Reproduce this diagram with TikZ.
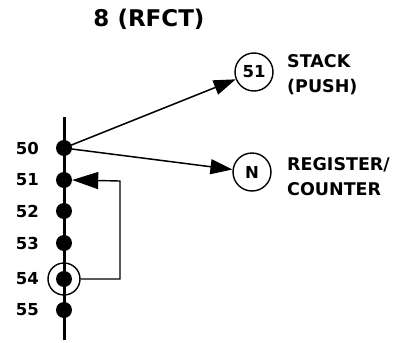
\documentclass[tikz,border=0pt]{standalone}
\usepackage{fontspec}
\setmainfont{DejaVu Sans}
\usetikzlibrary{arrows.meta}
\tikzset{
  lbl/.style={font=\bfseries\fontsize{16.5}{18}\selectfont, inner sep=0pt},
  side/.style={font=\bfseries\fontsize{17.5}{25}\selectfont, align=left, anchor=west, inner sep=0pt},
  dot/.style={circle, fill=black, minimum size=16pt, inner sep=0pt},
  ring/.style={circle, draw=black, line width=1.4pt, minimum size=38pt, inner sep=0pt, font=\bfseries\fontsize{16.5}{18}\selectfont},
  arr/.style={line width=1.5pt, -{Triangle[length=22pt,width=15pt]}},
  bigarr/.style={line width=1.4pt, -{Triangle[length=26pt,width=17pt]}}
}
\begin{document}
\begin{tikzpicture}[x=1pt,y=-1pt]
\useasboundingbox (0,0) rectangle (410,343);
\node[font=\bfseries\fontsize{23}{26}\selectfont, inner sep=0pt] (title) at (149,19) {8 (RFCT)};
\coordinate (top) at (64,117);
\coordinate (bot) at (64,340);
\draw[line width=3pt] (top) -- (bot);
\node[dot] (d50) at (64,148) {};
\node[dot] (d51) at (64,180) {};
\node[dot] (d52) at (64,211) {};
\node[dot] (d53) at (64,243) {};
\node[dot] (d54) at (64,279) {};
\node[dot] (d55) at (64,310) {};
\node[circle, draw=black, line width=1.4pt, minimum size=32pt, inner sep=0pt] (c54) at (d54) {};
\node[lbl, anchor=east] (l50) at (39,148) {50};
\node[lbl, anchor=east] (l51) at (39,180) {51};
\node[lbl, anchor=east] (l52) at (39,211) {52};
\node[lbl, anchor=east] (l53) at (39,243) {53};
\node[lbl, anchor=east] (l54) at (39,279) {54};
\node[lbl, anchor=east] (l55) at (39,310) {55};
\node[ring] (s51) at (254,72) {51};
\node[ring] (sn) at (252,172) {N};
\node[side] (stack) at (287,75) {STACK\\(PUSH)};
\node[side] (reg) at (287,177) {REGISTER/\\COUNTER};
\draw[arr] (d50.center) -- (s51);
\draw[arr] (d50.center) -- (sn);
\coordinate (lp1) at (120,279);
\coordinate (lp2) at (120,181);
\draw[bigarr] (c54.east) -- (lp1) -- (lp2) -- (d51.east);
\end{tikzpicture}
\end{document}
